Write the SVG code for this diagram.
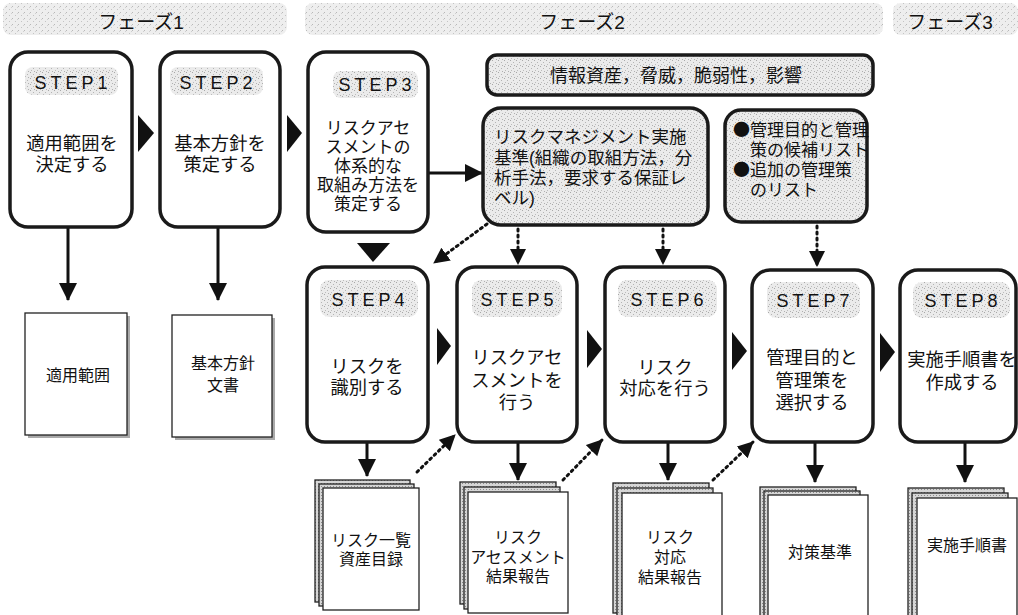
<svg xmlns="http://www.w3.org/2000/svg" width="1018" height="615" viewBox="0 0 1018 615">
<style>
  .jp { font-family: "Liberation Sans", "Noto Sans CJK JP", sans-serif; fill: #111; }
  .bul { font-family: "Noto Sans CJK JP", sans-serif; }
  .step { fill: #fff; stroke: #1a1a1a; stroke-width: 3.5; }
  .pill { fill: url(#stip); stroke: none; }
  .lbl { font-family: "Liberation Sans", Arial, sans-serif; font-size: 18px; letter-spacing: 4px; fill: #111; text-anchor: middle; }
  .main { font-size: 18.3px; text-anchor: middle; }
  .doc { font-size: 16px; text-anchor: middle; }
  .band { fill: url(#stip2); }
  .phase { font-size: 19px; text-anchor: middle; }
  .sol { stroke: #111; stroke-width: 3; fill: none; marker-end: url(#ah); }
  .dot { stroke: #111; stroke-width: 3; fill: none; stroke-dasharray: 2 4; stroke-linecap: round; marker-end: url(#ahd); }
  .tri { fill: #111; }
  .sheetb { fill: url(#stip3); stroke: #222; stroke-width: 1.3; }
  .sheetf { fill: #fff; stroke: #222; stroke-width: 1.3; }
  .info { fill: url(#stip); stroke: #1a1a1a; stroke-width: 3.5; }
</style>
<defs>
  <pattern id="stip" width="6" height="6" patternUnits="userSpaceOnUse">
    <rect width="6" height="6" fill="#ebebeb"/>
    <rect x="0" y="0" width="1" height="1" fill="#a8a8a8"/>
    <rect x="3" y="2" width="1" height="1" fill="#b4b4b4"/>
    <rect x="1" y="4" width="1" height="1" fill="#bcbcbc"/>
    <rect x="4" y="5" width="1" height="1" fill="#b0b0b0"/>
  </pattern>
  <pattern id="stip2" width="6" height="6" patternUnits="userSpaceOnUse">
    <rect width="6" height="6" fill="#eeeeee"/>
    <rect x="0" y="0" width="1" height="1" fill="#b8b8b8"/>
    <rect x="3" y="3" width="1" height="1" fill="#c4c4c4"/>
    <rect x="5" y="1" width="1" height="1" fill="#d0d0d0"/>
  </pattern>
  <pattern id="stip3" width="3" height="3" patternUnits="userSpaceOnUse">
    <rect width="3" height="3" fill="#d6d6d6"/>
    <rect x="0" y="0" width="1" height="1" fill="#888"/>
  </pattern>
  <marker id="ah" markerUnits="userSpaceOnUse" markerWidth="20" markerHeight="20" refX="17" refY="9" orient="auto">
    <path d="M0,0 L18,9 L0,18 z" fill="#111"/>
  </marker>
  <marker id="ahd" markerUnits="userSpaceOnUse" markerWidth="20" markerHeight="20" refX="15" refY="8" orient="auto">
    <path d="M0,0 L16,8 L0,16 z" fill="#111"/>
  </marker>
</defs>

<g id="phases">
  <rect class="band" x="3" y="3" width="284" height="32" rx="8"/>
  <text class="jp phase" x="141" y="29">フェーズ1</text>
  <rect class="band" x="305" y="3" width="578" height="32" rx="8"/>
  <text class="jp phase" x="582" y="29">フェーズ2</text>
  <rect class="band" x="893" y="3" width="125" height="32" rx="8"/>
  <text class="jp phase" x="950" y="29">フェーズ3</text>
</g>

<g id="connectors">
  <line class="sol" x1="68" y1="228" x2="68" y2="300"/>
  <line class="sol" x1="218" y1="228" x2="218" y2="300"/>
  <line class="sol" x1="429" y1="173" x2="482" y2="173"/>
  <line class="sol" x1="367" y1="443" x2="367" y2="476"/>
  <line class="sol" x1="518" y1="443" x2="518" y2="480"/>
  <line class="sol" x1="668" y1="443" x2="668" y2="480"/>
  <line class="sol" x1="815" y1="443" x2="815" y2="482"/>
  <line class="sol" x1="965" y1="443" x2="965" y2="482"/>
  <line class="dot" x1="487" y1="224" x2="434" y2="263"/>
  <line class="dot" x1="518" y1="229" x2="518" y2="264"/>
  <line class="dot" x1="663" y1="229" x2="663" y2="264"/>
  <line class="dot" x1="817" y1="226" x2="817" y2="266"/>
  <line class="dot" x1="417" y1="472" x2="455" y2="435"/>
  <line class="dot" x1="563" y1="480" x2="602" y2="440"/>
  <line class="dot" x1="713" y1="480" x2="753" y2="442"/>
  <polygon class="tri" points="138,115 154,133 138,152"/>
  <polygon class="tri" points="287,115 302,133 287,152"/>
  <polygon class="tri" points="357,243 390,243 373,262"/>
  <polygon class="tri" points="437,328 451,346 437,365"/>
  <polygon class="tri" points="587,330 602,349 587,368"/>
  <polygon class="tri" points="732,332 747,351 732,370"/>
  <polygon class="tri" points="880,333 895,352 880,372"/>
</g>

<g id="step1">
  <rect class="step" x="10" y="52" width="122" height="175" rx="18"/>
  <rect class="pill" x="25" y="67" width="93" height="28" rx="8"/>
  <text class="lbl" x="73" y="89">STEP1</text>
  <text class="jp main" x="72" y="150">適用範囲を<tspan x="72" dy="20.5">決定する</tspan></text>
</g>
<g id="step2">
  <rect class="step" x="160" y="52" width="120" height="175" rx="18"/>
  <rect class="pill" x="170" y="67" width="93" height="28" rx="8"/>
  <text class="lbl" x="218" y="89">STEP2</text>
  <text class="jp main" x="220" y="150">基本方針を<tspan x="220" dy="20.5">策定する</tspan></text>
</g>
<g id="step3">
  <rect class="step" x="308" y="52" width="120" height="180" rx="18"/>
  <rect class="pill" x="333" y="71" width="85" height="27" rx="8"/>
  <text class="lbl" x="377" y="91">STEP3</text>
  <text class="jp" x="368" y="134" font-size="17" text-anchor="middle">リスクアセ<tspan x="368" dy="19">スメントの</tspan><tspan x="368" dy="19">体系的な</tspan><tspan x="368" dy="19">取組み方法を</tspan><tspan x="368" dy="19">策定する</tspan></text>
</g>
<g id="info">
  <rect class="info" x="487" y="55" width="386" height="40" rx="10"/>
  <text class="jp" x="676" y="82" font-size="18" text-anchor="middle">情報資産，脅威，脆弱性，影響</text>
</g>
<g id="rmstd">
  <rect class="info" x="483" y="108" width="225" height="117" rx="18"/>
  <text class="jp" x="494" y="143" font-size="17.5">リスクマネジメント実施<tspan x="494" dy="20.5">基準(組織の取組方法，分</tspan><tspan x="494" dy="20">析手法，要求する保証レ</tspan><tspan x="494" dy="20">ベル)</tspan></text>
</g>
<g id="ctrllist">
  <rect class="info" x="725" y="110" width="142" height="112" rx="16"/>
  <text class="jp" x="733" y="136" font-size="17"><tspan class="bul">●</tspan>管理目的と管理<tspan x="750" dy="20">策の候補リスト</tspan><tspan x="733" dy="20" class="bul">●</tspan>追加の管理策<tspan x="750" dy="20">のリスト</tspan></text>
</g>

<g id="step4">
  <rect class="step" x="307" y="267" width="121" height="175" rx="18"/>
  <rect class="pill" x="320" y="280" width="98" height="37" rx="9"/>
  <text class="lbl" x="370" y="306">STEP4</text>
  <text class="jp main" x="367" y="373">リスクを<tspan x="367" dy="21">識別する</tspan></text>
</g>
<g id="step5">
  <rect class="step" x="457" y="267" width="120" height="175" rx="18"/>
  <rect class="pill" x="472" y="280" width="90" height="37" rx="9"/>
  <text class="lbl" x="519" y="306">STEP5</text>
  <text class="jp main" x="517" y="364">リスクアセ<tspan x="517" dy="23">スメントを</tspan><tspan x="517" dy="22">行う</tspan></text>
</g>
<g id="step6">
  <rect class="step" x="605" y="267" width="120" height="175" rx="18"/>
  <rect class="pill" x="618" y="280" width="99" height="37" rx="9"/>
  <text class="lbl" x="669" y="306">STEP6</text>
  <text class="jp main" x="665" y="374">リスク<tspan x="665" dy="20.5">対応を行う</tspan></text>
</g>
<g id="step7">
  <rect class="step" x="752" y="270" width="121" height="172" rx="18"/>
  <rect class="pill" x="767" y="282" width="93" height="36" rx="9"/>
  <text class="lbl" x="815" y="307">STEP7</text>
  <text class="jp main" x="812" y="364">管理目的と<tspan x="812" dy="23">管理策を</tspan><tspan x="812" dy="22">選択する</tspan></text>
</g>
<g id="step8">
  <rect class="step" x="900" y="270" width="116" height="172" rx="18"/>
  <rect class="pill" x="913" y="282" width="97" height="36" rx="9"/>
  <text class="lbl" x="963" y="307">STEP8</text>
  <text class="jp main" x="962" y="366">実施手順書を<tspan x="962" dy="23">作成する</tspan></text>
</g>

<g id="doc-scope">
  <rect x="28" y="316" width="102" height="122" fill="#aaa"/>
  <rect class="sheetf" x="25" y="313" width="102" height="122"/>
  <text class="jp doc" x="78" y="381">適用範囲</text>
</g>
<g id="doc-policy">
  <rect x="175" y="318" width="100" height="122" fill="#aaa"/>
  <rect class="sheetf" x="172" y="315" width="100" height="122"/>
  <text class="jp doc" x="223" y="369">基本方針<tspan x="223" dy="22">文書</tspan></text>
</g>
<g id="doc-risklist">
  <rect class="sheetb" x="315" y="480" width="95" height="122"/>
  <rect class="sheetb" x="319" y="484" width="95" height="122"/>
  <rect class="sheetf" x="323" y="488" width="96" height="122"/>
  <text class="jp doc" x="371" y="546">リスク一覧<tspan x="371" dy="19">資産目録</tspan></text>
</g>
<g id="doc-assess">
  <rect class="sheetb" x="460" y="482" width="96" height="122"/>
  <rect class="sheetb" x="464" y="487" width="96" height="122"/>
  <rect class="sheetf" x="468" y="492" width="100" height="121"/>
  <text class="jp doc" x="518" y="543">リスク<tspan x="518" dy="20">アセスメント</tspan><tspan x="518" dy="19">結果報告</tspan></text>
</g>
<g id="doc-treat">
  <rect class="sheetb" x="613" y="483" width="96" height="130"/>
  <rect class="sheetb" x="617" y="488" width="96" height="130"/>
  <rect class="sheetf" x="622" y="493" width="100" height="130"/>
  <text class="jp doc" x="670" y="543">リスク<tspan x="670" dy="20">対応</tspan><tspan x="670" dy="20">結果報告</tspan></text>
</g>
<g id="doc-criteria">
  <rect class="sheetb" x="760" y="487" width="96" height="130"/>
  <rect class="sheetb" x="764" y="491" width="96" height="130"/>
  <rect class="sheetf" x="768" y="495" width="100" height="130"/>
  <text class="jp doc" x="820" y="558">対策基準</text>
</g>
<g id="doc-proc">
  <rect class="sheetb" x="908" y="488" width="96" height="130"/>
  <rect class="sheetb" x="912" y="493" width="96" height="130"/>
  <rect class="sheetf" x="917" y="498" width="100" height="130"/>
  <text class="jp doc" x="967" y="551">実施手順書</text>
</g>
</svg>
